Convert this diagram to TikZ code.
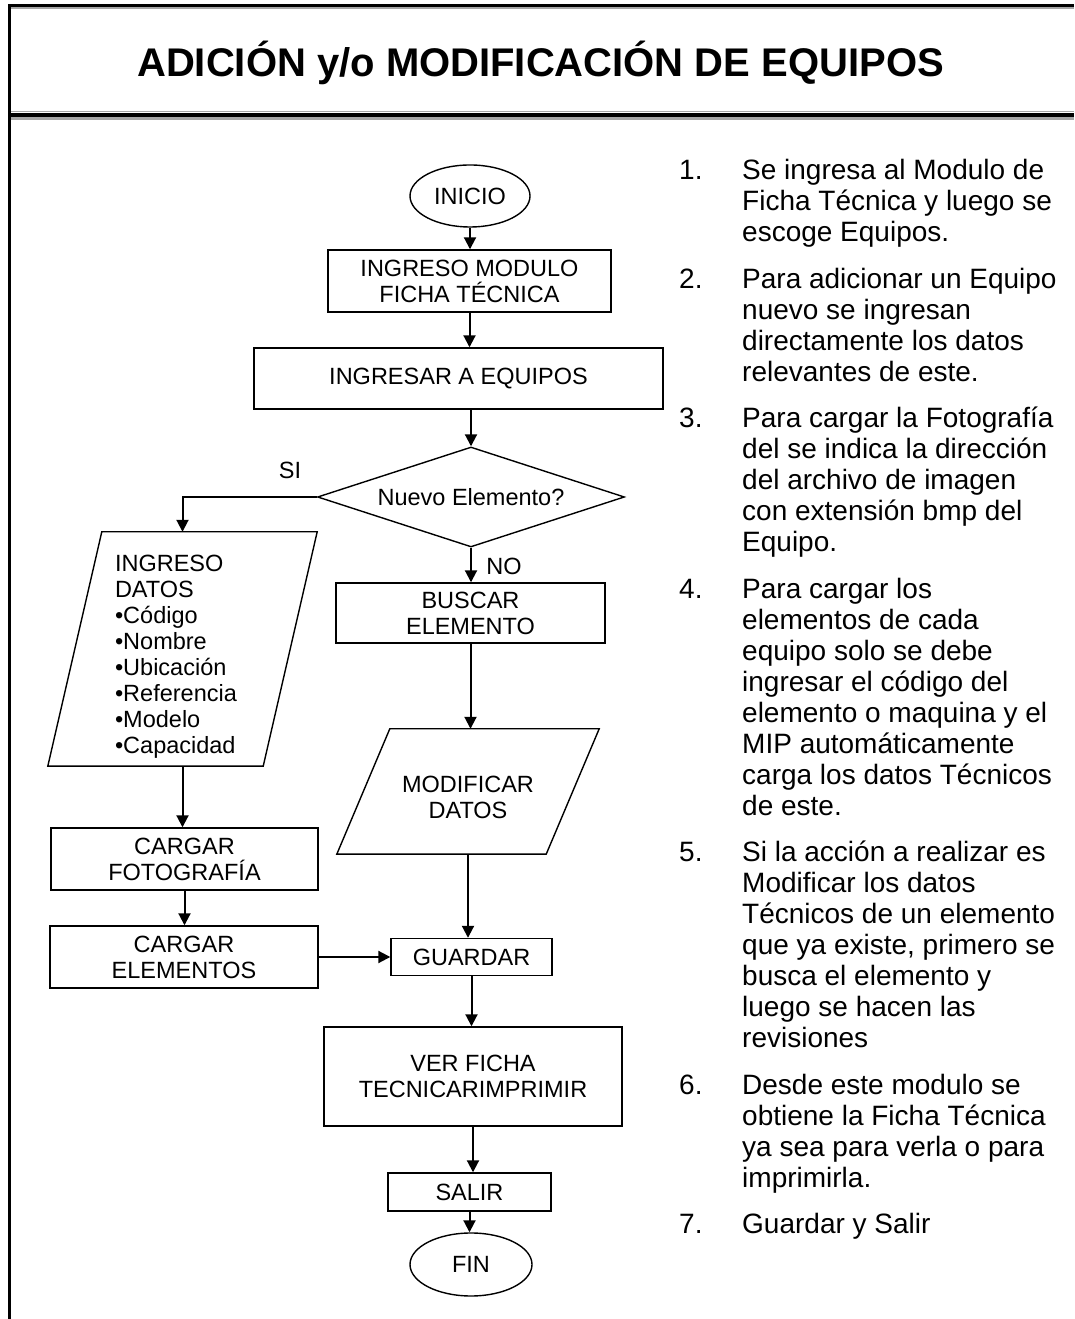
\documentclass[tikz,border=0pt]{standalone}
\usepackage{fontspec}
\setmainfont{Liberation Sans}
\usetikzlibrary{shapes.geometric, arrows.meta, positioning}

\newcommand{\chartfont}{\fontsize{23.5}{26}\selectfont}
\newcommand{\listfont}{\fontsize{28}{31}\selectfont}

\tikzstyle{proc} = [rectangle, draw=black, line width=1.4pt, align=center, inner sep=0pt, font=\chartfont]
\tikzstyle{term} = [ellipse, draw=black, line width=1.4pt, inner sep=0pt, font=\chartfont]
\tikzstyle{decision} = [diamond, aspect=3, draw=black, line width=1.4pt, inner sep=0pt, font=\chartfont]
\tikzstyle{io} = [rectangle, align=center, inner sep=0pt, font=\chartfont]
\tikzstyle{slant} = [draw=black, line width=1.4pt]
\tikzstyle{lbl} = [inner sep=0pt, font=\chartfont]
\tikzstyle{arrow} = [line width=2pt, ->, >={Triangle[length=12pt, width=12pt]}]
\tikzstyle{num} = [anchor=base west, inner sep=0pt, font=\listfont]
\tikzstyle{itemtxt} = [anchor=north west, align=left, inner sep=0pt, font=\listfont]

\begin{document}
\begin{tikzpicture}[x=1pt, y=1pt]

        \useasboundingbox (0,0) rectangle (1074,1319);

        % frame and title band
        \draw [line width=3pt] (9.5,0) -- (9.5,1313.7) -- (1074,1313.7);
        \draw [line width=2pt, gray!70] (11,1311) -- (1074,1311);
        \draw [line width=1pt, gray!70] (11,1207) -- (1074,1207);
        \draw [line width=3.5pt] (11,1204) -- (1074,1204);
        \draw [line width=2.5pt, gray!70] (11,1200.5) -- (1074,1200.5);

        \node (title) [anchor=base, font=\fontsize{40}{44}\selectfont\bfseries] at (540.5,1242) {ADICIÓN y/o MODIFICACIÓN DE EQUIPOS};

        % flow chart
        \node (inicio) [term, minimum width=120, minimum height=62] at (470,1123) {INICIO};
        \node (modulo) [proc, minimum width=283, minimum height=62] at (469.5,1038) {INGRESO MODULO\\FICHA TÉCNICA};
        \node (equipos) [proc, minimum width=409, minimum height=61] at (458.5,940.5) {INGRESAR A EQUIPOS};
        \node (nuevo) [decision, minimum width=307, minimum height=100] at (471,822) {Nuevo Elemento?};

        \node (si) [lbl] at (290,849) {SI};
        \node (no) [lbl] at (504,753) {NO};

        % the rule on the first line pushes the list a bit lower in the box
        \node (datos) [io, minimum width=215, minimum height=234, text width=135, align=left] at (182.5,670)
            {\rule{0pt}{32pt}INGRESO\\DATOS\\•Código\\•Nombre\\•Ubicación\\•Referencia\\•Modelo\\•Capacidad};
        \draw [slant] ([xshift=27]datos.north west) -- ([xshift=27]datos.north east)
            -- ([xshift=-27]datos.south east) -- ([xshift=-27]datos.south west) -- cycle;

        \node (buscar) [proc, minimum width=269, minimum height=60] at (470.5,706) {BUSCAR\\ELEMENTO};

        \node (modif) [io, minimum width=209, minimum height=125] at (468,527.5) {\rule{0pt}{28pt}MODIFICAR\\DATOS};
        \draw [slant] ([xshift=26.5]modif.north west) -- ([xshift=26.5]modif.north east)
            -- ([xshift=-26.5]modif.south east) -- ([xshift=-26.5]modif.south west) -- cycle;

        \node (foto) [proc, minimum width=267, minimum height=62] at (184.5,460) {CARGAR\\FOTOGRAFÍA};
        \node (elementos) [proc, minimum width=268, minimum height=62] at (184,362) {CARGAR\\ELEMENTOS};
        \node (guardar) [proc, minimum width=161, minimum height=37] at (471.5,362) {GUARDAR};
        \node (ver) [proc, minimum width=298, minimum height=99] at (473,242.5) {VER FICHA\\TECNICARIMPRIMIR};
        \node (salir) [proc, minimum width=163, minimum height=38] at (469.5,127) {SALIR};
        \node (fin) [term, minimum width=122, minimum height=63] at (471,54.5) {FIN};

        \draw [arrow] (inicio.south) -- (inicio.south |- modulo.north);
        \draw [arrow] (modulo.south) -- (modulo.south |- equipos.north);
        \draw [arrow] (nuevo.north |- equipos.south) -- (nuevo.north);
        \draw [arrow] (nuevo.west) -| (datos.north);
        \draw [arrow] (nuevo.south) -- (nuevo.south |- buscar.north);
        \draw [arrow] (buscar.south) -- (buscar.south |- modif.north);
        \draw [arrow] (datos.south) -- (datos.south |- foto.north);
        \draw [arrow] (foto.south) -- (foto.south |- elementos.north);
        \draw [arrow] (elementos.east) -- (guardar.west);
        \draw [arrow] (modif.south) -- (modif.south |- guardar.north);
        \draw [arrow] (guardar.south) -- (guardar.south |- ver.north);
        \draw [arrow] (ver.south) -- (ver.south |- salir.north);
        \draw [arrow] (salir.south) -- (salir.south |- fin.north);

        % numbered notes on the right
        \coordinate (tcol) at (742,0);

        \node (n1) [num] at (679,1139) {\strut 1.};
        \node (t1) [itemtxt] at (n1.north -| tcol) {\strut Se ingresa al Modulo de\\Ficha Técnica y luego se\\escoge Equipos.};

        \node (n2) [num] at (679,1030.5) {\strut 2.};
        \node (t2) [itemtxt] at (n2.north -| tcol) {\strut Para adicionar un Equipo\\nuevo se ingresan\\directamente los datos\\relevantes de este.};

        \node (n3) [num] at (679,891) {\strut 3.};
        \node (t3) [itemtxt] at (n3.north -| tcol) {\strut Para cargar la Fotografía\\del se indica la dirección\\del archivo de imagen\\con extensión bmp del\\Equipo.};

        \node (n4) [num] at (679,720.5) {\strut 4.};
        \node (t4) [itemtxt] at (n4.north -| tcol) {\strut Para cargar los\\elementos de cada\\equipo solo se debe\\ingresar el código del\\elemento o maquina y el\\MIP automáticamente\\carga los datos Técnicos\\de este.};

        \node (n5) [num] at (679,457) {\strut 5.};
        \node (t5) [itemtxt] at (n5.north -| tcol) {\strut Si la acción a realizar es\\Modificar los datos\\Técnicos de un elemento\\que ya existe, primero se\\busca el elemento y\\luego se hacen las\\revisiones};

        \node (n6) [num] at (679,224.5) {\strut 6.};
        \node (t6) [itemtxt] at (n6.north -| tcol) {\strut Desde este modulo se\\obtiene la Ficha Técnica\\ya sea para verla o para\\imprimirla.};

        \node (n7) [num] at (679,85) {\strut 7.};
        \node (t7) [itemtxt] at (n7.north -| tcol) {\strut Guardar y Salir};

    \end{tikzpicture}
\end{document}
